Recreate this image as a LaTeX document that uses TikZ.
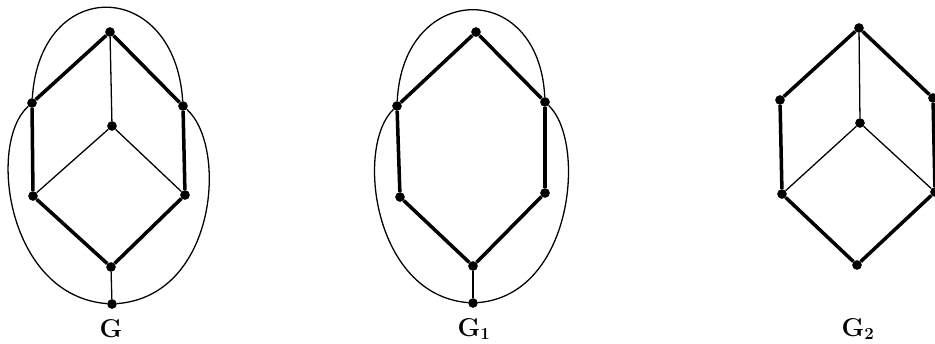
\documentclass[tikz,border=0pt]{standalone}
\usepackage{tikz}
\usetikzlibrary{positioning}

\begin{document}
\begin{tikzpicture}[x=0.03cm, y=0.03cm,
          dot/.style={circle, fill=black, inner sep=0pt, minimum size=0.29cm},
          heavy/.style={line width=3pt},
          light/.style={line width=1.1pt},
          lbl/.style={font=\fontsize{22}{26}\selectfont\bfseries}
        ]
        \useasboundingbox (0,0) rectangle (935,344);

        % graph G
        \node[dot] (gT)  at (110,312) {};
        \node[dot] (gLU) at (32,241)  {};
        \node[dot] (gRU) at (183,238) {};
        \node[dot] (gC)  at (112,218) {};
        \node[dot] (gLL) at (33,148)  {};
        \node[dot] (gRL) at (185,149) {};
        \node[dot] (gBI) at (111,77)  {};
        \node[dot] (gBO) at (112,40)  {};
        \node[lbl] (gN)  at (111,15)  {G};

        \foreach \a/\b in {gT/gLU, gT/gRU, gLU/gLL, gRU/gRL, gLL/gBI, gRL/gBI}{
          \draw[heavy] (\a) -- (\b);
        }
        \foreach \a/\b in {gT/gC, gC/gLL, gC/gRL, gBI/gBO}{
          \draw[light] (\a) -- (\b);
        }
        \draw[light] (gLU) .. controls +(8,128) and +(-8,128) .. (gRU);
        \draw[light] (gLU) .. controls +(-45,-40) and +(-105,8) .. (gBO);
        \draw[light] (gRU) .. controls +(45,-40) and +(105,8) .. (gBO);

        % graph G_1
        \node[dot] (hT)  at (476,312) {};
        \node[dot] (hLU) at (397,238) {};
        \node[dot] (hRU) at (545,242) {};
        \node[dot] (hLL) at (400,147) {};
        \node[dot] (hRL) at (545,151) {};
        \node[dot] (hBI) at (473,78)  {};
        \node[dot] (hBO) at (473,41)  {};
        \node[lbl] (hN)  at (474,15)  {G$_{\mathbf{1}}$};

        \foreach \a/\b in {hT/hLU, hT/hRU, hLU/hLL, hRU/hRL, hLL/hBI, hRL/hBI}{
          \draw[heavy] (\a) -- (\b);
        }
        \draw[light, line width=1.6pt] (hBI) -- (hBO);
        \draw[light] (hLU) .. controls +(6,124) and +(-6,124) .. (hRU);
        \draw[light] (hLU) .. controls +(-42,-40) and +(-100,8) .. (hBO);
        \draw[light] (hRU) .. controls +(42,-40) and +(100,8) .. (hBO);

        % graph G_2
        \node[dot] (kT)  at (859,316) {};
        \node[dot] (kLU) at (780,244) {};
        \node[dot] (kRU) at (933,246) {};
        \node[dot] (kC)  at (860,221) {};
        \node[dot] (kLL) at (782,150) {};
        \node[dot] (kRL) at (935,152) {};
        \node[dot] (kB)  at (857,79)  {};
        \node[lbl] (kN)  at (858,15)  {G$_{\mathbf{2}}$};

        \foreach \a/\b in {kT/kLU, kT/kRU, kLU/kLL, kRU/kRL, kLL/kB, kRL/kB}{
          \draw[heavy] (\a) -- (\b);
        }
        \foreach \a/\b in {kT/kC, kC/kLL, kC/kRL}{
          \draw[light] (\a) -- (\b);
        }
      \end{tikzpicture}
\end{document}
